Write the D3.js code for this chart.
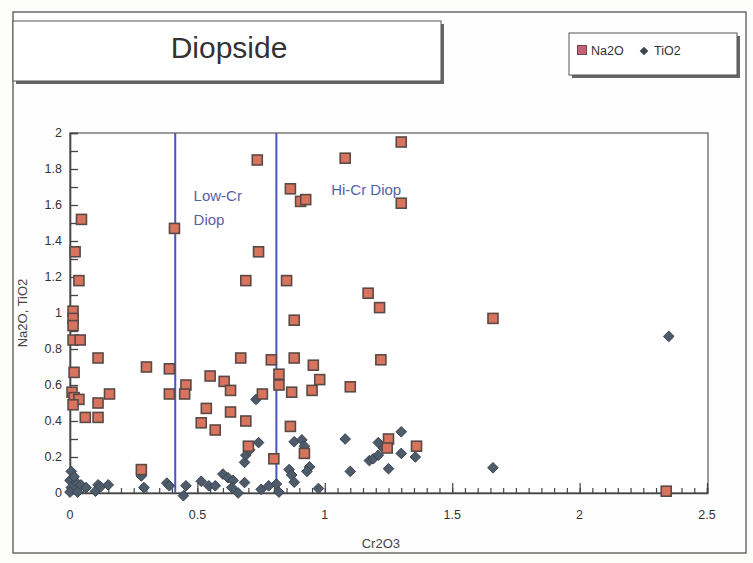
<!DOCTYPE html>
<html>
<head>
<meta charset="utf-8">
<script src="https://cdnjs.cloudflare.com/ajax/libs/d3/7.8.5/d3.min.js"></script>
<style>
  body { margin: 0; background: #fcfcfb; }
  svg { font-family: 'Liberation Sans', Arial, sans-serif; }
</style>
</head>
<body>
<div id="chart"></div>
<script>
// Na2O points [Cr2O3, Na2O]
const na2o = [
  [0.045, 1.52], [0.02, 1.34], [0.035, 1.18], [0.012, 1.01], [0.012, 0.97],
  [0.012, 0.93], [0.012, 0.85], [0.04, 0.85], [0.016, 0.67], [0.008, 0.56],
  [0.016, 0.53], [0.035, 0.52], [0.012, 0.49], [0.06, 0.42], [0.11, 0.75],
  [0.11, 0.50], [0.11, 0.42], [0.155, 0.55], [0.30, 0.70], [0.28, 0.13],
  [0.39, 0.69], [0.39, 0.55], [0.41, 1.47], [0.455, 0.60], [0.45, 0.55],
  [0.55, 0.65], [0.535, 0.47], [0.515, 0.39], [0.57, 0.35], [0.605, 0.62],
  [0.63, 0.57], [0.63, 0.45], [0.67, 0.75], [0.69, 0.40], [0.69, 1.18],
  [0.74, 1.34], [0.735, 1.85], [0.70, 0.26], [0.755, 0.55], [0.79, 0.74],
  [0.82, 0.66], [0.82, 0.60], [0.80, 0.19], [0.85, 1.18], [0.865, 1.69],
  [0.905, 1.62], [0.925, 1.63], [0.88, 0.96], [0.88, 0.75], [0.87, 0.56],
  [0.865, 0.37], [0.92, 0.22], [0.955, 0.71], [0.98, 0.63], [0.95, 0.57],
  [1.08, 1.86], [1.10, 0.59], [1.17, 1.11], [1.215, 1.03], [1.22, 0.74],
  [1.25, 0.30], [1.245, 0.25], [1.36, 0.26], [1.30, 1.95], [1.30, 1.61],
  [1.66, 0.97], [2.34, 0.01]
];

// TiO2 points [Cr2O3, TiO2]
const tio2 = [
  [0.005, 0.12], [0.0, 0.07], [0.024, 0.06], [0.005, 0.03], [0.043, 0.045],
  [0.0, 0.005], [0.03, 0.005], [0.063, 0.03], [0.016, 0.09], [0.11, 0.045],
  [0.10, 0.01], [0.12, 0.035], [0.15, 0.045], [0.28, 0.095], [0.29, 0.03],
  [0.38, 0.055], [0.39, 0.04], [0.445, -0.015], [0.455, 0.04], [0.515, 0.065],
  [0.545, 0.04], [0.57, 0.04], [0.60, 0.105], [0.62, 0.085], [0.64, 0.07],
  [0.635, 0.03], [0.66, 0.0], [0.685, 0.058], [0.685, 0.17], [0.69, 0.21],
  [0.705, 0.24], [0.74, 0.28], [0.73, 0.52], [0.75, 0.02], [0.78, 0.04],
  [0.81, 0.05], [0.82, 0.005], [0.86, 0.13], [0.87, 0.10], [0.88, 0.06],
  [0.88, 0.285], [0.91, 0.295], [0.92, 0.26], [0.94, 0.145], [0.93, 0.12],
  [0.975, 0.025], [1.08, 0.30], [1.10, 0.12], [1.175, 0.18], [1.19, 0.19],
  [1.21, 0.21], [1.23, 0.25], [1.21, 0.28], [1.25, 0.135], [1.30, 0.34],
  [1.30, 0.22], [1.355, 0.20], [1.66, 0.14], [2.35, 0.87]
];

const xTicks = [0, 0.5, 1, 1.5, 2, 2.5];
const yTicks = [0, 0.2, 0.4, 0.6, 0.8, 1, 1.2, 1.4, 1.6, 1.8, 2];
const dividers = [0.413, 0.81];
const zones = [
  { x: 0.485, y: 201, lines: ['Low-Cr', 'Diop'] },
  { x: 1.025, y: 195, lines: ['Hi-Cr Diop'] }
];
const legendItems = ['Na2O', 'TiO2'];

const width = 753, height = 563;
const plot = { left: 70, right: 707, top: 133, bottom: 493 };

const svg = d3.select('#chart').append('svg')
  .attr('width', width).attr('height', height);

// outer chart frame
svg.append('rect').attr('x', 13).attr('y', 12).attr('width', 733).attr('height', 541)
  .attr('fill', '#fefefe').attr('stroke', '#555').attr('stroke-width', 1.3);

// title box with shadow
svg.append('rect').attr('x', 16).attr('y', 24).attr('width', 428).attr('height', 60).attr('fill', '#666');
svg.append('rect').attr('x', 13).attr('y', 21).attr('width', 428).attr('height', 60)
  .attr('fill', '#fff').attr('stroke', '#555').attr('stroke-width', 1);
svg.append('text').attr('x', 229).attr('y', 58).attr('text-anchor', 'middle')
  .style('font-size', '30px').style('fill', '#333').text('Diopside');

// legend box
svg.append('rect').attr('x', 572).attr('y', 36).attr('width', 168).attr('height', 42).attr('fill', '#666');
svg.append('rect').attr('x', 569).attr('y', 33).attr('width', 168).attr('height', 42)
  .attr('fill', '#fff').attr('stroke', '#555').attr('stroke-width', 1);

const x = d3.scaleLinear().domain([0, 2.5]).range([plot.left, plot.right]);
const y = d3.scaleLinear().domain([0, 2]).range([plot.bottom, plot.top]);

const sq = 10;
const diamond = d3.symbol().type(d3.symbolDiamond2).size(72);

// plot frame
svg.append('rect').attr('x', plot.left).attr('y', plot.top)
  .attr('width', plot.right - plot.left + 1).attr('height', plot.bottom - plot.top)
  .attr('fill', '#fff').attr('stroke', '#666').attr('stroke-width', 1.3);

// y axis: ticks every 0.1, pointing inward
const yAxis = d3.axisRight(y).tickValues(d3.range(0, 2.001, 0.1)).tickSize(8).tickFormat('');
svg.append('g').attr('transform', `translate(${plot.left},0)`).call(yAxis)
  .call(g => g.select('.domain').attr('stroke', '#444').attr('stroke-width', 1.6))
  .call(g => g.selectAll('line').attr('stroke', '#444').attr('stroke-width', 1.3));
svg.append('g').selectAll('text').data(yTicks).join('text')
  .attr('x', plot.left - 8).attr('y', d => y(d) + 4).attr('text-anchor', 'end')
  .style('font-size', '12.5px').style('fill', '#333').text(d => d);

// x axis: minor ticks every 0.05, major every 0.5
const xMinor = d3.axisTop(x).tickValues(d3.range(0, 2.501, 0.05)).tickSize(5).tickFormat('');
svg.append('g').attr('transform', `translate(0,${plot.bottom})`).call(xMinor)
  .call(g => g.select('.domain').attr('stroke', '#444').attr('stroke-width', 1.6))
  .call(g => g.selectAll('line').attr('stroke', '#444').attr('stroke-width', 1.2));
const xMajor = d3.axisTop(x).tickValues(xTicks).tickSize(10).tickFormat('');
svg.append('g').attr('transform', `translate(0,${plot.bottom})`).call(xMajor)
  .call(g => g.select('.domain').remove())
  .call(g => g.selectAll('line').attr('stroke', '#444').attr('stroke-width', 1.2));
svg.append('g').selectAll('text').data(xTicks).join('text')
  .attr('x', d => x(d)).attr('y', plot.bottom + 26).attr('text-anchor', 'middle')
  .style('font-size', '12.5px').style('fill', '#333').text(d => d);

// axis titles
svg.append('text').attr('x', x(1.22)).attr('y', 548).attr('text-anchor', 'middle')
  .style('font-size', '13px').style('fill', '#444').text('Cr2O3');
svg.append('text').attr('transform', `translate(27,${(plot.top + plot.bottom) / 2}) rotate(-90)`)
  .attr('text-anchor', 'middle').style('font-size', '13px').style('fill', '#444').text('Na2O, TiO2');

// zone dividers
svg.append('g').selectAll('line').data(dividers).join('line')
  .attr('x1', d => x(d)).attr('x2', d => x(d)).attr('y1', plot.top).attr('y2', plot.bottom)
  .attr('stroke', '#4a56c0').attr('stroke-width', 2);
zones.forEach(z => {
  svg.append('text').attr('x', x(z.x)).attr('y', z.y)
    .style('font-size', '15px').style('fill', '#5662a8')
    .selectAll('tspan').data(z.lines).join('tspan')
    .attr('x', x(z.x)).attr('dy', (d, i) => i ? 24 : 0).text(d => d);
});

// TiO2 diamonds
svg.append('g').selectAll('path').data(tio2).join('path')
  .attr('d', diamond)
  .attr('transform', d => `translate(${x(d[0])},${y(d[1])})`)
  .attr('fill', '#4d5b6b').attr('stroke', '#3a4450').attr('stroke-width', 1);

// Na2O squares
svg.append('g').selectAll('rect').data(na2o).join('rect')
  .attr('x', d => x(d[0]) - sq / 2).attr('y', d => y(d[1]) - sq / 2)
  .attr('width', sq).attr('height', sq)
  .attr('fill', '#d8735e').attr('stroke', '#5a4a46').attr('stroke-width', 1.6);

// legend entries
const lg = svg.append('g').attr('transform', 'translate(582,50)');
lg.append('rect').attr('x', -4.5).attr('y', -4.5).attr('width', 9).attr('height', 9)
  .attr('fill', '#c9607a').attr('stroke', '#6a4a50').attr('stroke-width', 1);
lg.append('text').attr('x', 9).attr('y', 4.5).style('font-size', '12.5px').style('fill', '#333').text(legendItems[0]);
lg.append('path').attr('d', d3.symbol().type(d3.symbolDiamond2).size(48))
  .attr('transform', 'translate(62,1)').attr('fill', '#3f4650');
lg.append('text').attr('x', 72).attr('y', 4.5).style('font-size', '12.5px').style('fill', '#333').text(legendItems[1]);
</script>
</body>
</html>
